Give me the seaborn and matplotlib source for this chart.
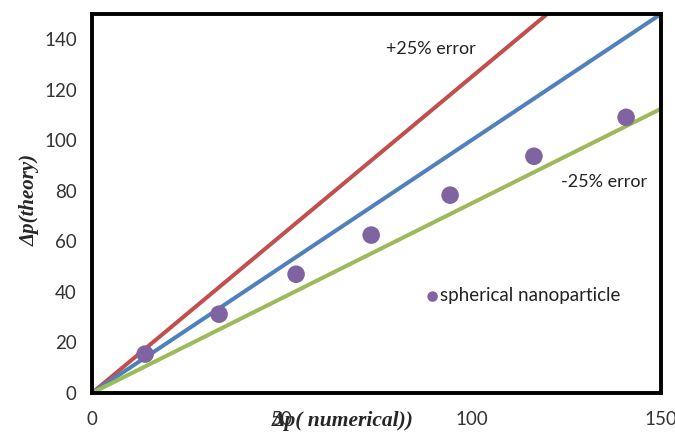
import matplotlib
matplotlib.use("Agg")
import matplotlib.pyplot as plt
import seaborn as sns
import pandas as pd

# Measured pressure drop: numerical vs. theory
numerical = [14.0, 33.5, 53.8, 73.6, 94.4, 116.5, 140.8]
theory = [15.4, 31.2, 47.0, 62.5, 78.3, 93.7, 109.1]

# Reference lines (end points): parity and +/-25% error bands
ref_x = [0, 150]
parity_y = [0, 150]
plus25_y = [0, 187.5]
minus25_y = [0, 112.5]

x_ticks = [0, 50, 100, 150]
y_ticks = [0, 20, 40, 60, 80, 100, 120, 140]

RED = "#C0504D"
BLUE = "#4F81BD"
GREEN = "#9BBB59"
PURPLE = "#8064A2"

sns.set_theme(style="white")
plt.rcParams["font.family"] = ["Lato", "DejaVu Sans"]

fig = plt.figure(figsize=(6.75, 4.34), dpi=100)
ax = fig.add_axes([92 / 675, 41 / 434, 569 / 675, 379 / 434])

sns.lineplot(x=ref_x, y=plus25_y, ax=ax, color=RED, linewidth=2.9, zorder=2)
sns.lineplot(x=ref_x, y=parity_y, ax=ax, color=BLUE, linewidth=2.9, zorder=2)
sns.lineplot(x=ref_x, y=minus25_y, ax=ax, color=GREEN, linewidth=2.9, zorder=2)

df = pd.DataFrame({"numerical": numerical, "theory": theory})
sns.scatterplot(data=df, x="numerical", y="theory", ax=ax, color=PURPLE,
                s=160, edgecolor="none", zorder=3, label="spherical nanoparticle")

ax.set_xlim(0, 150)
ax.set_ylim(0, 150)
ax.set_xticks(x_ticks)
ax.set_yticks(y_ticks)
ax.tick_params(axis="both", labelsize=13.5, labelcolor="#333333", length=5,
               width=1.2, direction="out", color="#888888")
ax.tick_params(axis="x", pad=8)
ax.tick_params(axis="y", pad=6)

for side in ["top", "right", "left", "bottom"]:
    ax.spines[side].set_visible(True)
    ax.spines[side].set_color("black")
    ax.spines[side].set_linewidth(2.8)

ax.set_xlabel("")
ax.set_ylabel("")
fig.text(343 / 675, 1 - 421 / 434, "Δp( numerical))", ha="center", va="center",
         fontsize=15.5, fontweight="bold", fontstyle="italic",
         family=["Liberation Serif", "DejaVu Serif"])
fig.text(30 / 675, 1 - 200 / 434, "Δp(theory)", ha="center", va="center",
         rotation=90, fontsize=15, fontweight="bold", fontstyle="italic",
         family=["Liberation Serif", "DejaVu Serif"])

fig.text(431 / 675, 1 - 49 / 434, "+25% error", ha="center", va="center",
         fontsize=13, color="#222222")
fig.text(604 / 675, 1 - 182 / 434, "-25% error", ha="center", va="center",
         fontsize=13, color="#222222")

leg = ax.legend(loc="center left", bbox_to_anchor=((412 - 92) / 569, (393 - 296) / 379),
                frameon=False, fontsize=13.5, handletextpad=-0.2, borderpad=0,
                handlelength=1.2, markerscale=0.6)
for t in leg.get_texts():
    t.set_color("#222222")

fig.savefig("out.png", dpi=100)
